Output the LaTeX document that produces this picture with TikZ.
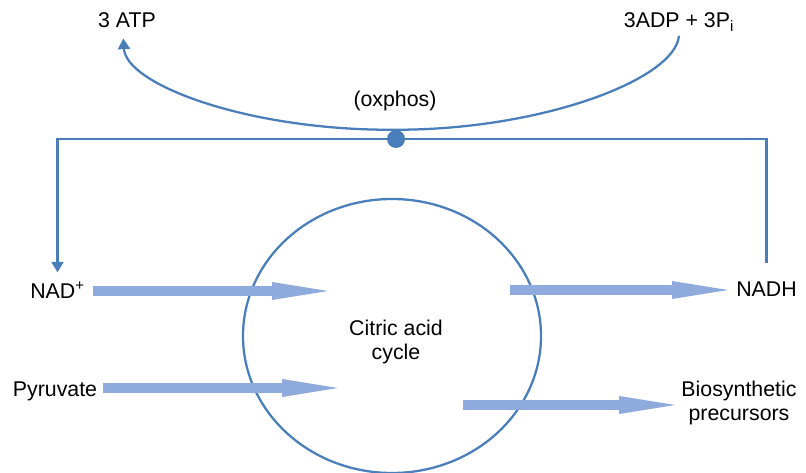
\documentclass[tikz,border=0pt]{standalone}
\usepackage{fontspec}
\setmainfont{Liberation Sans}
\usetikzlibrary{arrows.meta, shapes.geometric}

\definecolor{linkblue}{HTML}{4A7EBB}
\definecolor{fluxblue}{HTML}{8FAADC}

\begin{document}
\begin{tikzpicture}[
  x=0.75pt, y=-0.75pt,
  every node/.style={font=\fontsize{16}{18}\selectfont},
  % Styles
  lbl/.style={anchor=base, inner sep=3pt},
  lbl2/.style={align=center, inner sep=0pt},
  cyclebox/.style={ellipse, draw=linkblue, line width=1.7pt, minimum width=223.5pt, minimum height=205.5pt, inner sep=0pt},
  hub/.style={circle, fill=linkblue, minimum size=13.5pt, inner sep=0pt},
  conn/.style={draw=linkblue, line width=1.7pt},
  tip/.style={-{Triangle[length=8pt, width=9pt]}},
  flux/.style={draw=fluxblue, line width=7pt, -{Triangle[length=42pt, width=13.5pt, line width=0pt]}},
]
  \useasboundingbox (0,0) rectangle (806,473);

  % Cycle
  \node[cyclebox] (cyc) at (392,336) {};
  \node[lbl2] (cac) at (396,342) {Citric acid\\cycle};

  % Labels
  \node[lbl] (atp) at (127,28) {3 ATP};
  \node[lbl] (adp) at (679,28) {3ADP + 3P\textsubscript{i}};
  \node[lbl] (ox) at (395,107) {(oxphos)};
  \node[lbl] (nad) at (57.5,299) {NAD\textsuperscript{+}};
  \node[lbl] (pyr) at (55,397) {Pyruvate};
  \node[lbl] (nadh) at (766.5,297) {NADH};
  \node[lbl2] (bio) at (739,403) {Biosynthetic\\precursors};

  % Coordinates inside the cycle
  \coordinate (nadin) at (328,291);
  \coordinate (pyrin) at (338,388);
  \coordinate (nadhout) at (510,290);
  \coordinate (bioout) at (463,405);

  % Oxphos
  \node[hub] (dot) at (396,139) {};
  \draw[conn, tip, shorten <=11pt, shorten >=4pt] (nadh.north) |- (dot.center) -| (nad.north);
  \draw[conn, tip, shorten >=4.5pt] (adp.south) .. controls (675,80) and (540,130) .. (dot.north)
    .. controls (250,131) and (126,85) .. ([xshift=-3pt]atp.south);

  % Fluxes
  \draw[flux, shorten <=3pt] (nad.east |- nadin) -- (nadin);
  \draw[flux, shorten <=1.5pt] (pyr.east |- pyrin) -- (pyrin);
  \draw[flux, shorten >=3pt] (nadhout) -- (nadhout -| nadh.west);
  \draw[flux, shorten >=4.5pt] (bioout) -- (bioout -| bio.west);

\end{tikzpicture}
\end{document}
